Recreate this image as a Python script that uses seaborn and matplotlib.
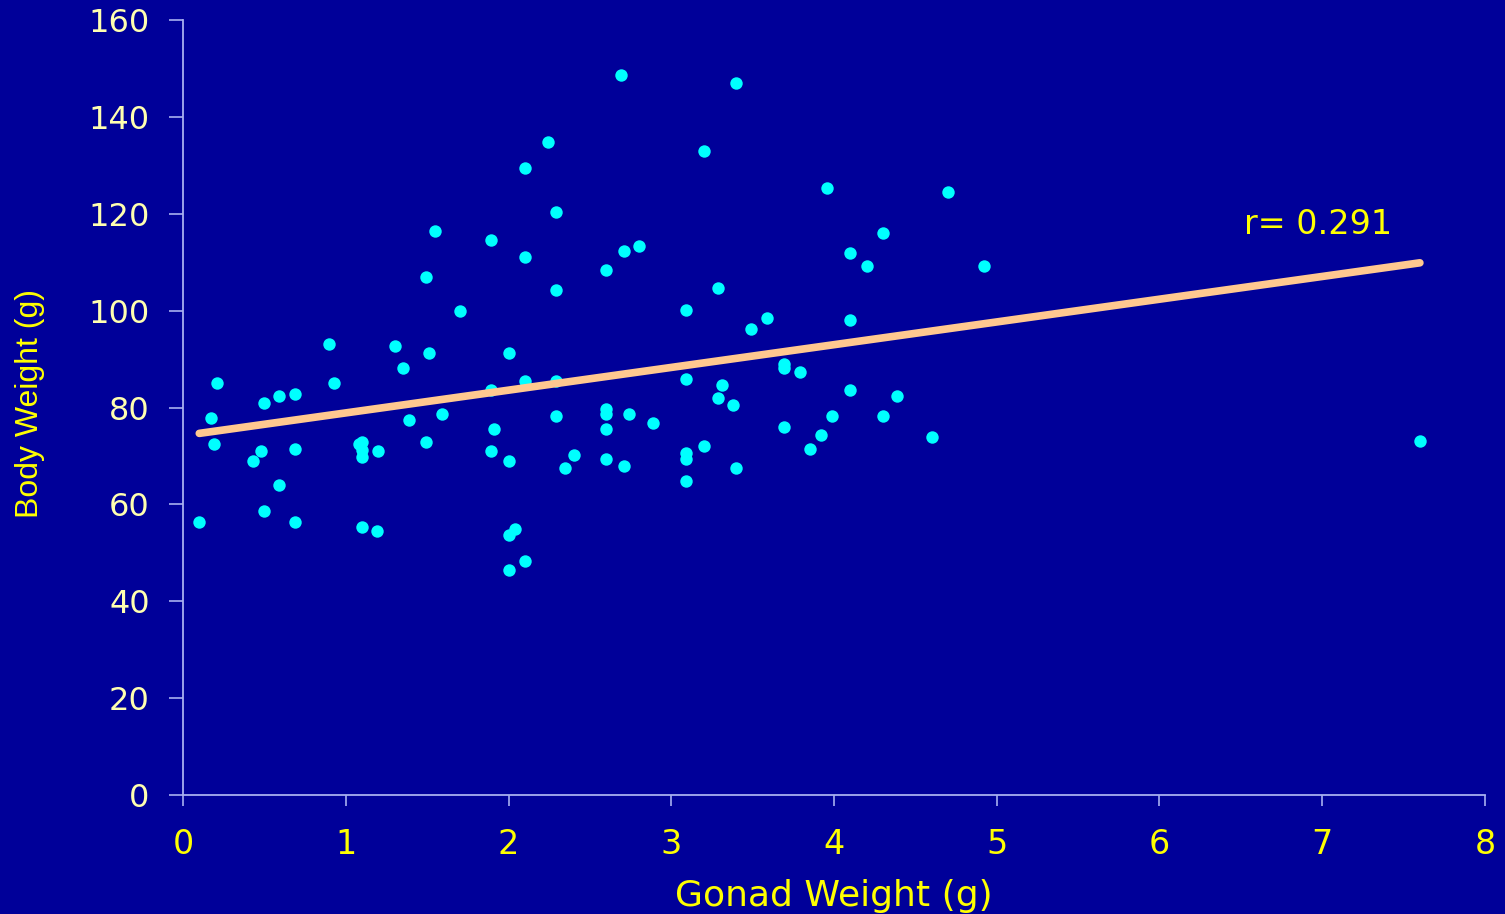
import matplotlib.pyplot as plt
import numpy as np
import pandas as pd
import seaborn as sns
from matplotlib.path import Path

# values
gonad_weight = [0.10, 0.17, 0.19, 0.21, 0.43, 0.48, 0.50, 0.50, 0.59, 0.59,
                0.69, 0.69, 0.69, 0.90, 0.93, 1.10, 1.08, 1.10, 1.10, 1.10,
                1.19, 1.20, 1.30, 1.35, 1.39, 1.49, 1.51, 1.49, 1.55, 1.59,
                1.70, 1.89, 1.89, 1.89, 1.91, 2.00, 2.00, 2.00, 2.04, 2.00,
                2.10, 2.10, 2.10, 2.10, 2.24, 2.29, 2.29, 2.29, 2.29, 2.35,
                2.40, 2.60, 2.60, 2.60, 2.60, 2.60, 2.69, 2.71, 2.71, 2.74,
                2.80, 2.89, 3.09, 3.09, 3.09, 3.09, 3.09, 3.20, 3.20, 3.29,
                3.29, 3.31, 3.38, 3.40, 3.40, 3.49, 3.59, 3.69, 3.69, 3.69,
                3.79, 3.85, 3.92, 3.96, 3.99, 4.10, 4.10, 4.10, 4.20, 4.30,
                4.30, 4.39, 4.60, 4.70, 4.92, 7.60]
body_weight = [56.4, 77.8, 72.5, 85.1, 69.0, 71.0, 80.9, 58.6, 82.4, 64.0,
               82.8, 71.4, 56.4, 93.1, 85.1, 72.9, 72.5, 71.2, 69.8, 55.3,
               54.5, 71.0, 92.7, 88.2, 77.4, 106.9, 91.2, 72.9, 116.4, 78.7,
               99.9, 114.6, 83.6, 71.0, 75.6, 91.2, 69.0, 53.7, 54.9, 46.4,
               48.3, 129.4, 111.1, 85.5, 134.8, 120.4, 104.3, 85.5, 78.2, 67.5,
               70.2, 108.4, 79.7, 78.7, 75.6, 69.4, 148.6, 112.3, 67.9, 78.7,
               113.3, 76.8, 100.1, 85.9, 70.6, 69.4, 64.8, 132.9, 72.0, 104.7,
               82.0, 84.6, 80.5, 147.0, 67.5, 96.2, 98.5, 89.0, 88.2, 76.0,
               87.3, 71.4, 74.3, 125.3, 78.2, 111.9, 98.1, 83.6, 109.2, 116.0,
               78.2, 82.4, 73.9, 124.5, 109.2, 73.1]
r_label = 'r= 0.291'

df = pd.DataFrame({'gonad': gonad_weight, 'body': body_weight})
print('r =', np.corrcoef(df.gonad, df.body)[0, 1])

bg = '#000099'
axis_col = '#A8B0F0'
# the original text is drawn wide, DejaVu is closer in footprint than Arial
plt.rcParams['font.family'] = ['DejaVu Sans']

# flattened ellipse marker like the original
t = np.linspace(0, 2 * np.pi, 40)
ellipse = Path(np.column_stack([np.cos(t), 0.72 * np.sin(t)]), closed=True)

fig = plt.figure(figsize=(15.05, 9.14), dpi=100, facecolor=bg)
ax = fig.add_axes([0.1216, 0.1302, 0.8651, 0.8479], facecolor=bg)

sns.regplot(data=df, x='gonad', y='body', ci=None, ax=ax,
            scatter_kws={'color': '#00FFFF', 's': 80, 'marker': ellipse,
                         'linewidths': 0, 'alpha': 1, 'zorder': 3},
            line_kws={'color': '#FFC890', 'lw': 5.5, 'zorder': 4,
                      'solid_capstyle': 'round'})

ax.set_xlim(0, 8)
ax.set_ylim(0, 160)
ax.set_xticks(range(0, 9))
ax.set_yticks(range(0, 161, 20))
for s in ['top', 'right']:
    ax.spines[s].set_visible(False)
for s in ['left', 'bottom']:
    ax.spines[s].set_color(axis_col)
    ax.spines[s].set_linewidth(1.3)
ax.tick_params(axis='y', colors=axis_col, labelcolor='#FFFFB0', length=10,
               width=1.2, labelsize=23, pad=14)
ax.tick_params(axis='x', colors=axis_col, labelcolor='#FFFF00', length=8,
               width=1.2, labelsize=24, pad=16)
ax.set_xlabel('Gonad Weight (g)', color='#FFFF00', fontsize=26)
ax.xaxis.set_label_coords(0.5, -0.108)
ax.set_ylabel('Body Weight (g)', color='#FFFF00', fontsize=23,
              family='Liberation Sans')
ax.yaxis.set_label_coords(-0.106, 0.505)
ax.text(6.52, 117.8, r_label, color='#FFFF00', fontsize=24,
        ha='left', va='center')

fig.savefig('out.png', dpi=100, facecolor=bg)
